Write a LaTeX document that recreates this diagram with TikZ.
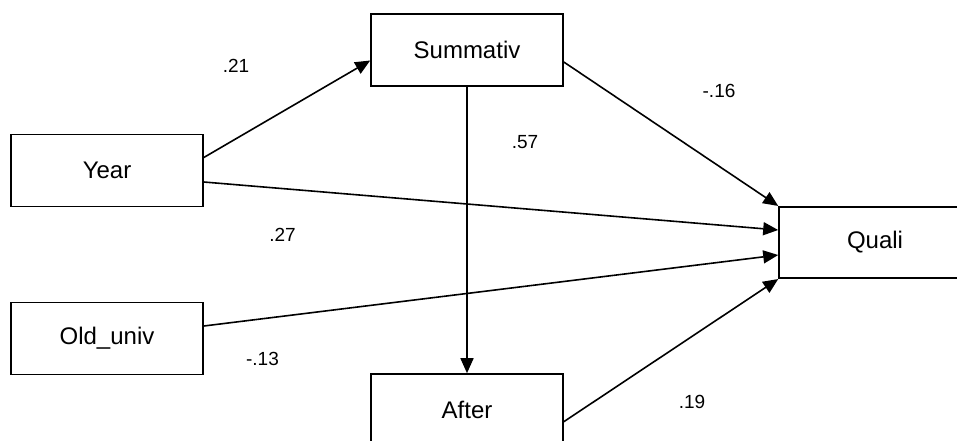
\documentclass[tikz,border=0pt]{standalone}
\usepackage{fontspec}
\setmainfont{Liberation Sans}
\usetikzlibrary{arrows.meta}

\begin{document}
\begin{tikzpicture}[%
    x=1pt, y=-1pt,                         % Pixel grid, y runs downwards
    >={Triangle[length=15pt,width=13pt]},  % Filled arrow heads
    line width=1.6pt,                      % Same weight for boxes and paths
    ]
% -------------------------------------------------
% A few box styles
\tikzset{
  base/.style={draw, align=center},
  box/.style={base, rectangle, minimum width=192pt, minimum height=72pt,
    font=\fontsize{24}{28}\selectfont},
  % Path coefficients and effect lines
  coef/.style={inner sep=0pt, font=\fontsize{19}{23}\selectfont},
  eff/.style={->, draw}
}
\useasboundingbox (0,0) rectangle (957,440);
% -------------------------------------------------
% Start by placing the variables
\node [box] (summ)  at (467,50)    {Summativ};
\node [box] (year)  at (107,170.5) {Year};
\node [box] (old)   at (107,338.5) {Old\_univ};
\node [box] (after) at (467,410)   {After};
\node [box, minimum height=71.5pt] (quali) at (875,242.5) {Quali};

% Effects
\draw [eff] ([yshift=13pt]year.east)    -- ([yshift=-10.5pt]summ.west);
\draw [eff] ([yshift=-12pt]summ.east)   -- (quali.north west);
\draw [eff] ([yshift=-11.5pt]year.east) -- ([yshift=12.5pt]quali.west);
\draw [eff] ([yshift=12.5pt]old.east)   -- ([yshift=-12.5pt]quali.west);
\draw [eff] ([yshift=-11.7pt]after.east) -- (quali.south west);
\draw [eff] (summ.south) -- (after.north);

% Coefficients
\node [coef] (c21) at (236,66)    {.21};
\node [coef] (c16) at (719,90.5)  {-.16};
\node [coef] (c57) at (525,142)   {.57};
\node [coef] (c27) at (282.5,234.5) {.27};
\node [coef] (c13) at (262.5,359) {-.13};
\node [coef] (c19) at (692,402)   {.19};
% -------------------------------------------------
\end{tikzpicture}
\end{document}
